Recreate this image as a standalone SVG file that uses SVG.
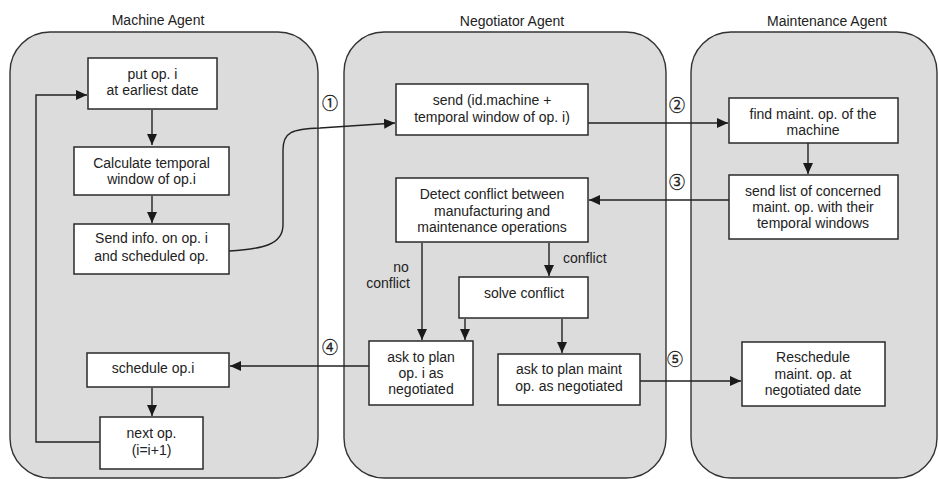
<svg xmlns="http://www.w3.org/2000/svg" width="939" height="479" viewBox="0 0 939 479">
<defs>
<marker id="ah" markerUnits="userSpaceOnUse" markerWidth="12" markerHeight="10" refX="11" refY="5" orient="auto">
<path d="M0,0 L11,5 L0,10 Z" fill="#1a1a1a"/>
</marker>
<style>
.panel{fill:#dcdcdc;stroke:#333;stroke-width:1.4}
.box{fill:#fff;stroke:#2a2a2a;stroke-width:1.5}
.t{font-family:"Liberation Sans",Arial,sans-serif;font-size:14px;fill:#222;text-anchor:middle}
.ttl{font-family:"Liberation Sans",Arial,sans-serif;font-size:14px;fill:#222;text-anchor:middle}
.lbl{font-family:"Liberation Sans",Arial,sans-serif;font-size:14px;fill:#222}
.num{font-family:"Noto Sans CJK JP","DejaVu Sans",sans-serif;font-size:16px;fill:#222;stroke:#222;stroke-width:0.3;text-anchor:middle}
.ca{fill:none;stroke:#222;stroke-width:1.4;marker-end:url(#ah)}
</style>
</defs>
<rect width="939" height="479" fill="#fff"/>
<g id="machine-agent">
<rect class="panel" x="10" y="32" width="308" height="446" rx="40"/>
<text class="ttl" x="158" y="25">Machine Agent</text>
</g>
<g id="negotiator-agent">
<rect class="panel" x="344" y="32" width="322" height="446" rx="40"/>
<text class="ttl" x="512" y="26">Negotiator Agent</text>
</g>
<g id="maintenance-agent">
<rect class="panel" x="691" y="32" width="246" height="446" rx="40"/>
<text class="ttl" x="827" y="26">Maintenance Agent</text>
</g>
<g id="connectors">
<path class="ca" d="M152,110 L152,145"/>
<path class="ca" d="M152,196 L152,223"/>
<path class="ca" d="M152,388 L152,416"/>
<path class="ca" d="M100,442 L36,442 L36,95 L87,95"/>
<path class="ca" d="M229,251 C262,249 283,245 283,225 L283,150 C283,132 292,129 320,128 L395,123"/>
<path class="ca" d="M588,123 L728,123"/>
<path class="ca" d="M808,143 L808,174"/>
<path class="ca" d="M729,200 L589,200"/>
<path class="ca" d="M422,243 L422,340"/>
<path class="ca" d="M549,243 L549,276"/>
<path class="ca" d="M465,319 L465,340"/>
<path class="ca" d="M562,319 L562,353"/>
<path class="ca" d="M369,366 L230,366"/>
<path class="ca" d="M640,381 L741,381"/>
<text class="num" x="330" y="109">①</text>
<text class="num" x="677" y="111">②</text>
<text class="num" x="677" y="188">③</text>
<text class="num" x="330" y="353">④</text>
<text class="num" x="675" y="365">⑤</text>
<text class="t" x="401" y="272">no</text>
<text class="t" x="388" y="288">conflict</text>
<text class="lbl" x="563" y="263">conflict</text>
</g>
<g id="put-op">
<rect class="box" x="88" y="58" width="129" height="51"/>
<text class="t" x="152.5" y="79">put op. i</text>
<text class="t" x="152.5" y="95">at earliest date</text>
</g>
<g id="calc-window">
<rect class="box" x="74" y="147" width="155" height="48"/>
<text class="t" x="151.5" y="168">Calculate temporal</text>
<text class="t" x="151.5" y="184">window of op.i</text>
</g>
<g id="send-info">
<rect class="box" x="74" y="224" width="155" height="50"/>
<text class="t" x="151.5" y="243">Send info. on op. i</text>
<text class="t" x="151.5" y="261">and scheduled op.</text>
</g>
<g id="schedule-op">
<rect class="box" x="87" y="353" width="142" height="34"/>
<text class="t" x="153" y="373">schedule op.i</text>
</g>
<g id="next-op">
<rect class="box" x="100" y="417" width="103" height="52"/>
<text class="t" x="151.5" y="438">next op.</text>
<text class="t" x="151.5" y="455">(i=i+1)</text>
</g>
<g id="send-id">
<rect class="box" x="396" y="84" width="192" height="51"/>
<text class="t" x="492" y="105">send (id.machine +</text>
<text class="t" x="492" y="122">temporal window of op. i)</text>
</g>
<g id="detect-conflict">
<rect class="box" x="396" y="178" width="192" height="64"/>
<text class="t" x="492" y="199">Detect conflict between</text>
<text class="t" x="492" y="216">manufacturing and</text>
<text class="t" x="492" y="232">maintenance operations</text>
</g>
<g id="solve-conflict">
<rect class="box" x="459" y="277" width="129" height="41"/>
<text class="t" x="524" y="298">solve conflict</text>
</g>
<g id="ask-op">
<rect class="box" x="369" y="341" width="104" height="64"/>
<text class="t" x="421" y="362">ask to plan</text>
<text class="t" x="421" y="378">op. i as</text>
<text class="t" x="421" y="394">negotiated</text>
</g>
<g id="ask-maint">
<rect class="box" x="498" y="354" width="142" height="51"/>
<text class="t" x="569" y="374">ask to plan maint</text>
<text class="t" x="569" y="391">op. as negotiated</text>
</g>
<g id="find-maint">
<rect class="box" x="729" y="98" width="169" height="45"/>
<text class="t" x="813" y="119">find maint. op. of the</text>
<text class="t" x="813" y="135">machine</text>
</g>
<g id="send-list">
<rect class="box" x="729" y="175" width="169" height="64"/>
<text class="t" x="813" y="196">send list of concerned</text>
<text class="t" x="813" y="212">maint. op. with  their</text>
<text class="t" x="813" y="228">temporal windows</text>
</g>
<g id="reschedule">
<rect class="box" x="742" y="342" width="143" height="64"/>
<text class="t" x="813" y="362">Reschedule</text>
<text class="t" x="813" y="379">maint. op. at</text>
<text class="t" x="813" y="395">negotiated date</text>
</g>
</svg>
